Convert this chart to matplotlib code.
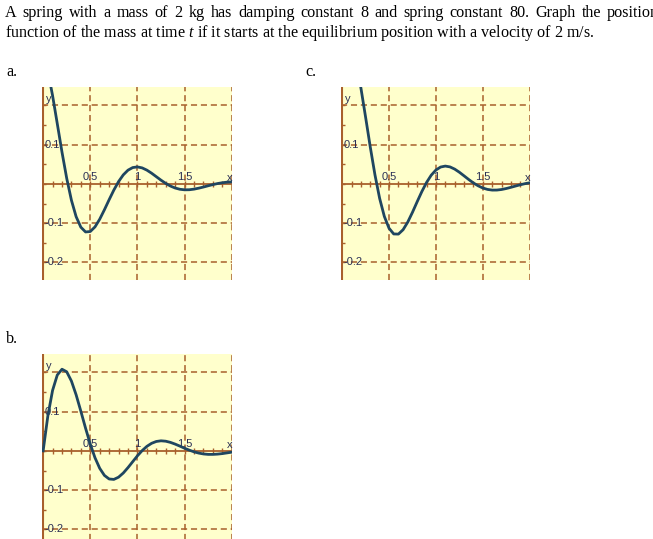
import numpy as np
import matplotlib
matplotlib.use('Agg')
from matplotlib import pyplot as plt

plt.rcParams['mathtext.fontset'] = 'custom'
plt.rcParams['mathtext.rm'] = 'Liberation Serif'
plt.rcParams['mathtext.it'] = 'Liberation Serif:italic'

# time samples (s) and the three candidate curves
t = [0.00, 0.05, 0.10, 0.15, 0.20, 0.25, 0.30, 0.35, 0.40, 0.45,
     0.50, 0.55, 0.60, 0.65, 0.70, 0.75, 0.80, 0.85, 0.90, 0.95,
     1.00, 1.05, 1.10, 1.15, 1.20, 1.25, 1.30, 1.35, 1.40, 1.45,
     1.50, 1.55, 1.60, 1.65, 1.70, 1.75, 1.80, 1.85, 1.90, 1.95, 2.00]

y_a = [0.3333, 0.2881, 0.2252, 0.1535, 0.0810, 0.0143, -0.0416, -0.0836, -0.1104, -0.1225,
       -0.1214, -0.1096, -0.0900, -0.0659, -0.0403, -0.0157, 0.0059, 0.0230, 0.0350, 0.0416,
       0.0433, 0.0408, 0.0351, 0.0273, 0.0184, 0.0095, 0.0013, -0.0055, -0.0105, -0.0137,
       -0.0151, -0.0149, -0.0134, -0.0109, -0.0080, -0.0048, -0.0018, 0.0009, 0.0029, 0.0044, 0.0051]

y_b = [0.0, 0.0891, 0.1541, 0.1934, 0.2082, 0.2017, 0.1781, 0.1429, 0.1012, 0.0579,
       0.0173, -0.0175, -0.0444, -0.0625, -0.0716, -0.0727, -0.0670, -0.0564, -0.0426, -0.0275,
       -0.0126, 0.0007, 0.0115, 0.0193, 0.0240, 0.0257, 0.0247, 0.0217, 0.0173, 0.0122,
       0.0068, 0.0019, -0.0024, -0.0056, -0.0078, -0.0089, -0.0089, -0.0082, -0.0069, -0.0051, -0.0033]

y_c = [0.3470, 0.3686, 0.3533, 0.3089, 0.2449, 0.1704, 0.0941, 0.0231, -0.0370, -0.0829,
       -0.1130, -0.1276, -0.1280, -0.1168, -0.0972, -0.0724, -0.0455, -0.0195, 0.0036, 0.0222,
       0.0354, 0.0430, 0.0454, 0.0433, 0.0377, 0.0297, 0.0205, 0.0111, 0.0024, -0.0049,
       -0.0105, -0.0141, -0.0158, -0.0157, -0.0143, -0.0118, -0.0087, -0.0054, -0.0022, 0.0006, 0.0028]

x_grid = [0.5, 1.0, 1.5, 2.0]
y_grid = [-0.2, -0.1, 0.1, 0.2]
x_labels = ['0.5', '1', '1.5']
x_label_vals = [0.5, 1.0, 1.5]
y_labels = ['0.1', '-0.1', '-0.2']
y_label_vals = [0.1, -0.1, -0.2]

line1 = 'A spring with a mass of 2 kg has damping constant 8 and spring constant 80. Graph the position'
line2 = 'function of the mass at time $\\mathit{t}$ if it starts at the equilibrium position with a velocity of 2 m/s.'

W, H = 653, 539
BG = '#ffffcc'
BROWN = '#a8602c'
CURVE = '#1f4660'
LBL = '#2a2f55'
SANS = 'Liberation Sans'
SERIF = 'Liberation Serif'
FS = 11.6


def panel(left, top, right, bottom, y):
    ax = fig.add_axes([left / W, 1 - bottom / H, (right - left) / W, (bottom - top) / H])
    ax.set_facecolor(BG)
    for s in ax.spines.values():
        s.set_visible(False)
    ax.set_xlim(-0.012, 2.003)
    ax.set_ylim(-0.245, 0.247)
    ax.set_xticks([])
    ax.set_yticks([])
    # dashed grid
    for gx in x_grid:
        ax.axvline(gx, color=BROWN, lw=1.1, ls=(0, (4, 2.5)), zorder=1)
    for gy in y_grid:
        ax.axhline(gy, color=BROWN, lw=1.1, ls=(0, (4, 2.5)), zorder=1)
    # axes through the origin
    ax.axhline(0, color=BROWN, lw=1.3, zorder=2)
    ax.axvline(0, color=BROWN, lw=1.5, zorder=2)
    xt = np.arange(0.1, 2.0, 0.1)
    ax.plot(xt, np.zeros_like(xt), ls='none', marker='|', ms=4, mew=1, color=BROWN, zorder=2)
    yt = np.arange(-0.25, 0.25, 0.05)
    ax.plot(np.zeros_like(yt), yt, ls='none', marker='_', ms=4, mew=1, color=BROWN, zorder=2)
    # labels
    for xv, s in zip(x_label_vals, x_labels):
        ax.text(xv, 0.005, s, ha='center', va='bottom', fontsize=8, color=LBL,
                family=SANS, zorder=3)
    ax.text(1.975, 0.003, 'x', ha='center', va='bottom', fontsize=8, color=LBL,
            family=SANS, zorder=3)
    for yv, s in zip(y_label_vals, y_labels):
        ax.text(0.012, yv, s, ha='left', va='center', fontsize=8, color=LBL,
                family=SANS, zorder=3)
    ax.text(0.055, 0.203, 'y', ha='center', va='bottom', fontsize=8, color=LBL,
            family=SANS, zorder=3)
    ax.plot(t, y, color=CURVE, lw=2.0, zorder=4, solid_joinstyle='round')
    return ax


fig = plt.figure(figsize=(W / 100, H / 100), dpi=100)
renderer = fig.canvas.get_renderer()

# first line is justified in the source, so spread the words out to the right edge
words = line1.split(' ')
arts = [fig.text(0, 1 - 17 / H, w, fontsize=FS, family=SERIF, va='baseline', ha='left')
        for w in words]
widths = [a.get_window_extent(renderer).width for a in arts]
x0, x1 = 5, 659
gap = (x1 - x0 - sum(widths)) / (len(words) - 1)
xpos = x0
for a, w in zip(arts, widths):
    a.set_x(xpos / W)
    xpos += w + gap

fig.text(5 / W, 1 - 37 / H, line2, fontsize=FS, family=SERIF, va='baseline', ha='left')

fig.text(6 / W, 1 - 76 / H, 'a.', fontsize=FS, family=SERIF, va='baseline')
fig.text(305 / W, 1 - 76 / H, 'c.', fontsize=FS, family=SERIF, va='baseline')
fig.text(6 / W, 1 - 343 / H, 'b.', fontsize=FS, family=SERIF, va='baseline')

panel(42, 87, 232, 280, y_a)
panel(341, 87, 530, 280, y_c)
panel(42, 354, 232, 547, y_b)

fig.savefig('out.png', dpi=100)
